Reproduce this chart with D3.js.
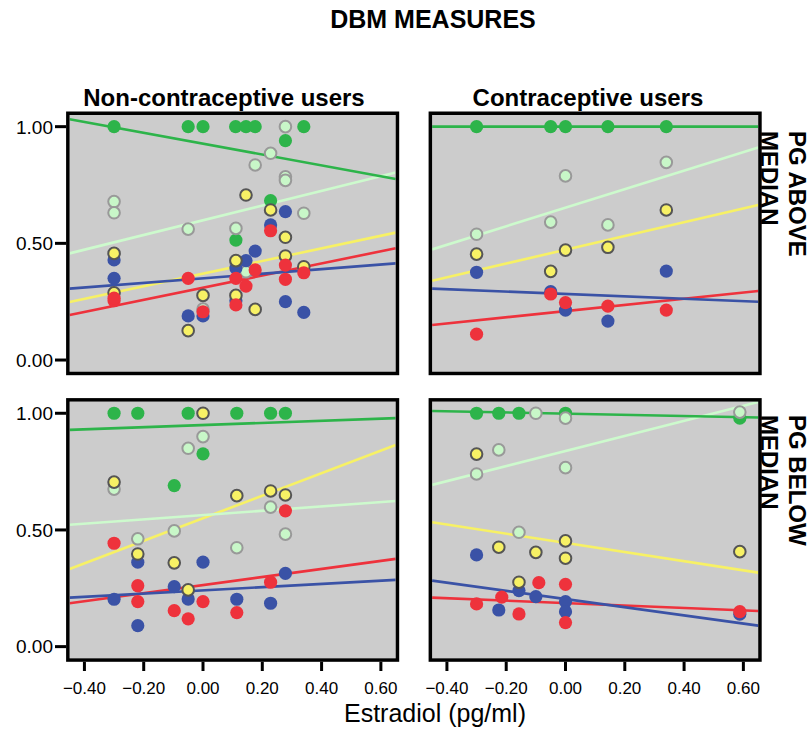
<!DOCTYPE html>
<html><head><meta charset="utf-8">
<script src="https://cdn.jsdelivr.net/npm/d3@7"></script>
<style>body{margin:0;background:#fff}svg{display:block}text{font-family:"Liberation Sans",Arial,sans-serif;fill:#000}</style>
</head><body>
<script>
// ---------- data ----------
const xTicks = [-0.40,-0.20,0.00,0.20,0.40,0.60];
const yTicks = [0.00,0.50,1.00];
const colTitles = ["Non-contraceptive users","Contraceptive users"];
const rowTitles = [["PG ABOVE","MEDIAN"],["PG BELOW","MEDIAN"]];
const seriesOrder = ["green","lightgreen","blue","yellow","red"];

// top-left: non-contraceptive, PG above median  [estradiol, value]
const tlGreen = [[-0.30,1.0],[-0.05,1.0],[0.0,1.0],[0.11,1.0],[0.145,1.0],[0.176,1.0],[0.34,1.0],[0.278,0.94],[0.228,0.683],[0.111,0.514]];
const tlLight = [[0.278,1.0],[0.228,0.886],[0.176,0.836],[0.278,0.785],[0.278,0.77],[-0.30,0.679],[-0.30,0.631],[0.34,0.629],[-0.05,0.561],[0.111,0.564],[0.145,0.378],[0.111,0.42],[0.0,0.218]];
const tlBlue = [[0.278,0.636],[0.228,0.579],[0.176,0.467],[0.145,0.426],[0.111,0.394],[-0.30,0.429],[-0.30,0.35],[0.278,0.25],[0.34,0.204],[-0.05,0.189],[0.0,0.189],[0.111,0.254]];
const tlYellow = [[0.145,0.707],[0.228,0.643],[0.278,0.526],[-0.30,0.457],[0.111,0.426],[0.278,0.446],[0.34,0.40],[-0.30,0.288],[0.0,0.277],[0.111,0.277],[0.176,0.217],[-0.05,0.126]];
const tlRed = [[0.228,0.554],[0.278,0.407],[0.34,0.374],[0.176,0.386],[0.111,0.35],[0.145,0.317],[-0.05,0.35],[0.278,0.346],[-0.30,0.254],[-0.30,0.265],[0.0,0.207],[0.111,0.236]];
// fitted lines: value at x=-0.45 and x=0.65
const tlFit = {green:[1.032,0.776], lightgreen:[0.457,0.804], blue:[0.306,0.414], yellow:[0.249,0.546], red:[0.193,0.479]};

// top-right: contraceptive, PG above median
const trGreen = [[-0.30,1.0],[-0.05,1.0],[0.0,1.0],[0.143,1.0],[0.34,1.0]];
const trLight = [[0.34,0.847],[0.0,0.789],[-0.05,0.591],[0.143,0.579],[-0.30,0.539]];
const trBlue = [[-0.30,0.376],[0.34,0.381],[-0.05,0.293],[0.0,0.214],[0.143,0.167]];
const trYellow = [[0.34,0.643],[-0.30,0.454],[0.0,0.471],[0.143,0.483],[-0.05,0.38]];
const trRed = [[-0.05,0.283],[0.0,0.246],[0.143,0.231],[0.34,0.214],[-0.30,0.111]];
const trFit = {green:[1.0,1.0], lightgreen:[0.474,0.911], blue:[0.306,0.25], yellow:[0.34,0.664], red:[0.15,0.296]};

// bottom-left: non-contraceptive, PG below median
const blGreen = [[-0.30,1.0],[-0.22,1.0],[-0.05,1.0],[0.114,1.0],[0.228,1.0],[0.278,1.0],[0.0,0.826],[-0.097,0.69]];
const blLight = [[0.0,0.90],[-0.05,0.85],[-0.30,0.675],[0.228,0.598],[-0.097,0.496],[-0.22,0.462],[0.278,0.482],[0.114,0.424]];
const blBlue = [[0.0,0.362],[-0.22,0.362],[0.278,0.314],[-0.097,0.257],[-0.05,0.204],[-0.30,0.203],[0.114,0.203],[0.228,0.186],[-0.22,0.09]];
const blYellow = [[0.0,1.0],[-0.30,0.705],[0.114,0.647],[0.228,0.667],[0.278,0.65],[-0.22,0.397],[-0.097,0.359],[-0.05,0.243]];
const blRed = [[-0.30,0.443],[0.278,0.582],[-0.22,0.261],[-0.22,0.193],[0.228,0.276],[0.0,0.193],[-0.097,0.154],[-0.05,0.119],[0.114,0.146]];
const blFit = {green:[0.929,0.979], lightgreen:[0.522,0.624], blue:[0.21,0.286], yellow:[0.333,0.864], red:[0.186,0.376]};

// bottom-right: contraceptive, PG below median
const brGreen = [[-0.30,1.0],[-0.225,1.0],[-0.157,1.0],[0.0,1.0],[0.588,0.979]];
const brLight = [[-0.10,1.0],[0.0,0.979],[0.588,1.005],[-0.225,0.843],[-0.30,0.74],[0.0,0.767],[-0.157,0.49]];
const brBlue = [[-0.30,0.393],[-0.157,0.24],[-0.10,0.214],[-0.225,0.157],[0.0,0.193],[0.0,0.15],[0.588,0.139]];
const brYellow = [[-0.30,0.825],[0.0,0.453],[0.0,0.379],[-0.225,0.426],[-0.10,0.404],[0.588,0.407],[-0.157,0.276]];
const brRed = [[-0.30,0.183],[-0.215,0.212],[-0.157,0.14],[-0.09,0.274],[0.0,0.267],[0.0,0.103],[0.588,0.15]];
const brFit = {green:[1.01,0.982], lightgreen:[0.693,1.048], blue:[0.283,0.09], yellow:[0.533,0.317], red:[0.21,0.153]};

const xFitAt = [-0.45, 0.65];

// ---------- styles ----------
const fillC = {green:"#2db44a", lightgreen:"#c8f7c8", blue:"#3a52a6", yellow:"#f7f165", red:"#ee323c"};
const strokeC = {green:"none", lightgreen:"#999999", blue:"none", yellow:"#555555", red:"none"};
const lineC = {green:"#2db44a", lightgreen:"#cdfacd", blue:"#3a52a6", yellow:"#f7f165", red:"#ee323c"};

const W = 810, H = 730;
const svg = d3.select("body").append("svg").attr("width", W).attr("height", H);

const xScales = [
  d3.scaleLinear().domain([-0.45,0.65]).range([69.6,395.7]),
  d3.scaleLinear().domain([-0.45,0.65]).range([432.1,758.2])
];
const yScales = [
  d3.scaleLinear().domain([-0.05,1.05]).range([371.7,115]),
  d3.scaleLinear().domain([-0.05,1.05]).range([658.3,401.6])
];

const panels = [
  {r:0,c:0,pts:{green:tlGreen,lightgreen:tlLight,blue:tlBlue,yellow:tlYellow,red:tlRed},fit:tlFit},
  {r:0,c:1,pts:{green:trGreen,lightgreen:trLight,blue:trBlue,yellow:trYellow,red:trRed},fit:trFit},
  {r:1,c:0,pts:{green:blGreen,lightgreen:blLight,blue:blBlue,yellow:blYellow,red:blRed},fit:blFit},
  {r:1,c:1,pts:{green:brGreen,lightgreen:brLight,blue:brBlue,yellow:brYellow,red:brRed},fit:brFit}
];

panels.forEach((p,i) => {
  const x = xScales[p.c], y = yScales[p.r];
  const [x0,x1] = x.range(), [y0,y1] = y.range();
  const g = svg.append("g");
  g.append("rect").attr("x",x0).attr("y",y1).attr("width",x1-x0).attr("height",y0-y1).attr("fill","#cccccc");
  const clipId = "clip"+i;
  svg.append("clipPath").attr("id",clipId).append("rect").attr("x",x0).attr("y",y1).attr("width",x1-x0).attr("height",y0-y1);
  const inner = g.append("g").attr("clip-path",`url(#${clipId})`);
  // fit lines
  seriesOrder.slice().reverse().forEach(s => {
    const v = p.fit[s];
    inner.append("line")
      .attr("x1",x(xFitAt[0])).attr("y1",y(v[0]))
      .attr("x2",x(xFitAt[1])).attr("y2",y(v[1]))
      .attr("stroke",lineC[s]).attr("stroke-width",2.6);
  });
  // points
  seriesOrder.forEach(s => {
    inner.append("g").selectAll("circle").data(p.pts[s]).join("circle")
      .attr("cx",d=>x(d[0])).attr("cy",d=>y(d[1]))
      .attr("r", strokeC[s]==="none" ? 6.6 : 5.8)
      .attr("fill",fillC[s])
      .attr("stroke",strokeC[s]).attr("stroke-width",strokeC[s]==="none"?0:2);
  });
  // border
  g.append("rect").attr("x",x0-1.75).attr("y",y1-1.75).attr("width",x1-x0+3.5).attr("height",y0-y1+3.5)
    .attr("fill","none").attr("stroke","#000").attr("stroke-width",3.5);

  // y axis on left column
  if (p.c === 0) {
    const ax = g.append("g");
    yTicks.forEach(t => {
      ax.append("line").attr("x1",55).attr("x2",x0-3.5).attr("y1",y(t)).attr("y2",y(t)).attr("stroke","#000").attr("stroke-width",3);
      ax.append("text").attr("x",53).attr("y",y(t)).attr("dy","0.36em").attr("text-anchor","end")
        .attr("font-size",19).text(d3.format(".2f")(t));
    });
  }
  // x axis on bottom row
  if (p.r === 1) {
    const ax = g.append("g");
    xTicks.forEach(t => {
      ax.append("line").attr("x1",x(t)).attr("x2",x(t)).attr("y1",y0+3.5).attr("y2",671).attr("stroke","#000").attr("stroke-width",3);
      ax.append("text").attr("x",x(t)).attr("y",694).attr("text-anchor","middle")
        .attr("font-size",17).text(d3.format(".2f")(t));
    });
  }
});

// titles
svg.append("text").attr("x",433).attr("y",28).attr("text-anchor","middle")
  .attr("font-size",25).attr("font-weight","bold").text("DBM MEASURES");
svg.append("text").attr("x",224).attr("y",106).attr("text-anchor","middle")
  .attr("font-size",24).attr("font-weight","bold").text(colTitles[0]);
svg.append("text").attr("x",588).attr("y",106).attr("text-anchor","middle")
  .attr("font-size",24).attr("font-weight","bold").text(colTitles[1]);
// row titles (rotated)
const rowStartY = [131, 415];
rowTitles.forEach((lines,r) => {
  lines.forEach((txt,k) => {
    svg.append("text").attr("transform",`translate(${789-28*k},${rowStartY[r]}) rotate(90)`)
      .attr("font-size",24).attr("font-weight","bold").text(txt);
  });
});
svg.append("text").attr("x",435).attr("y",722).attr("text-anchor","middle")
  .attr("font-size",25).text("Estradiol (pg/ml)");
</script>
</body></html>
